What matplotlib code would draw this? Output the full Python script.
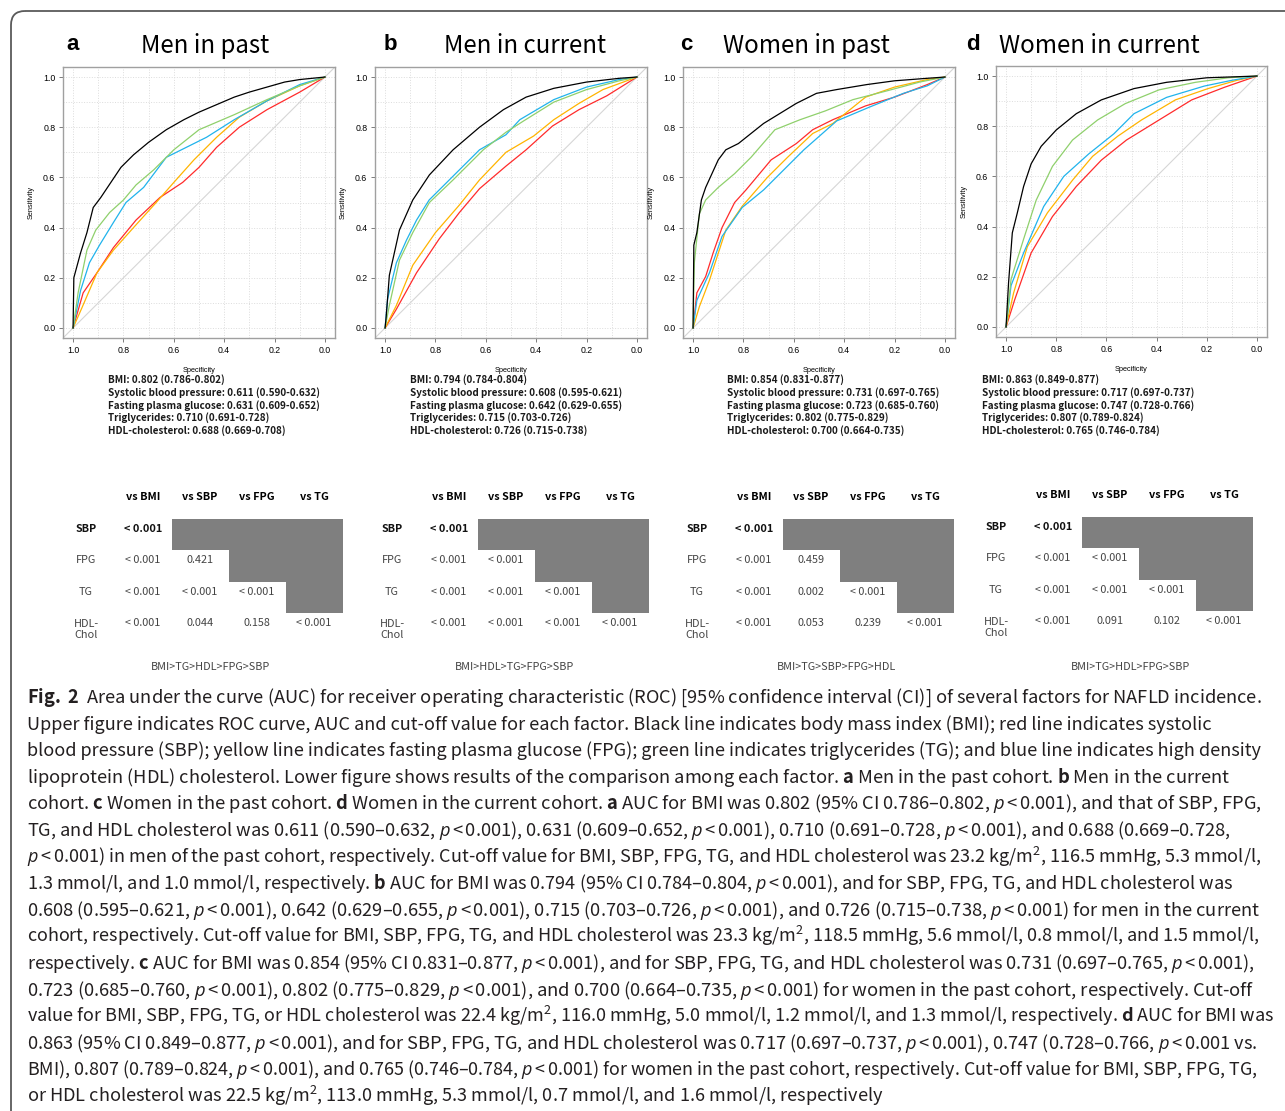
import matplotlib
matplotlib.use("Agg")
import matplotlib.pyplot as plt
from matplotlib import font_manager
from matplotlib.patches import Rectangle, FancyBboxPatch
from matplotlib.ticker import FormatStrFormatter
import numpy as np

W, H = 1285, 1111

installed = {f.name for f in font_manager.fontManager.ttflist}


def pick(*names):
    for n in names:
        if n in installed:
            return n
    return 'DejaVu Sans'


JP_FONT = pick('Noto Sans CJK JP', 'Noto Sans')
CAP_FONT = JP_FONT
IT_FONT = pick('Open Sans', 'Lato', 'Noto Sans')
R_FONT = pick('Liberation Sans', 'DejaVu Sans')

plt.rcParams['mathtext.fontset'] = 'custom'
plt.rcParams['mathtext.rm'] = CAP_FONT
plt.rcParams['mathtext.it'] = IT_FONT + ':italic'
plt.rcParams['mathtext.bf'] = CAP_FONT + ':bold'

# ---------------- data ----------------
letters = ["a", "b", "c", "d"]
titles = ["Men in past", "Men in current", "Women in past", "Women in current"]
line_colors = ["#000000", "#ff2b2b", "#ffb400", "#8fd06c", "#20b3ec"]  # BMI, SBP, FPG, TG, HDL

# ROC curves: (specificity, sensitivity)
roc_a_bmi = ([1.0, 0.997, 0.97, 0.945, 0.92, 0.89, 0.85, 0.81, 0.76, 0.70, 0.63, 0.56, 0.50, 0.43, 0.36, 0.30, 0.23, 0.16, 0.10, 0.0],
             [0.0, 0.20, 0.30, 0.38, 0.48, 0.52, 0.58, 0.64, 0.69, 0.74, 0.79, 0.83, 0.86, 0.89, 0.92, 0.94, 0.96, 0.98, 0.99, 1.0])
roc_a_sbp = ([1.0, 0.96, 0.905, 0.84, 0.75, 0.655, 0.565, 0.50, 0.43, 0.34, 0.23, 0.165, 0.10, 0.0],
             [0.0, 0.14, 0.22, 0.32, 0.43, 0.52, 0.58, 0.64, 0.72, 0.80, 0.87, 0.905, 0.94, 1.0])
roc_a_fpg = ([1.0, 0.965, 0.905, 0.84, 0.76, 0.67, 0.60, 0.52, 0.43, 0.34, 0.23, 0.10, 0.0],
             [0.0, 0.08, 0.22, 0.31, 0.40, 0.50, 0.58, 0.67, 0.76, 0.84, 0.905, 0.965, 1.0])
roc_a_tg = ([1.0, 0.98, 0.945, 0.91, 0.855, 0.80, 0.75, 0.68, 0.60, 0.50, 0.36, 0.23, 0.10, 0.0],
            [0.0, 0.14, 0.31, 0.39, 0.46, 0.51, 0.57, 0.63, 0.71, 0.79, 0.85, 0.91, 0.965, 1.0])
roc_a_hdl = ([1.0, 0.97, 0.935, 0.895, 0.84, 0.79, 0.72, 0.63, 0.55, 0.47, 0.36, 0.23, 0.10, 0.0],
             [0.0, 0.15, 0.26, 0.33, 0.42, 0.50, 0.56, 0.68, 0.72, 0.76, 0.83, 0.905, 0.97, 1.0])

roc_b_bmi = ([1.0, 0.996, 0.983, 0.943, 0.89, 0.824, 0.73, 0.625, 0.53, 0.44, 0.33, 0.20, 0.07, 0.0],
             [0.0, 0.04, 0.21, 0.39, 0.51, 0.61, 0.71, 0.80, 0.87, 0.92, 0.955, 0.98, 0.995, 1.0])
roc_b_sbp = ([1.0, 0.955, 0.875, 0.785, 0.705, 0.625, 0.52, 0.44, 0.335, 0.23, 0.12, 0.0],
             [0.0, 0.075, 0.22, 0.355, 0.46, 0.555, 0.645, 0.71, 0.805, 0.87, 0.925, 1.0])
roc_b_fpg = ([1.0, 0.955, 0.89, 0.80, 0.705, 0.625, 0.52, 0.41, 0.33, 0.23, 0.135, 0.0],
             [0.0, 0.09, 0.25, 0.38, 0.49, 0.59, 0.70, 0.765, 0.83, 0.895, 0.95, 1.0])
roc_b_tg = ([1.0, 0.983, 0.943, 0.89, 0.824, 0.73, 0.61, 0.52, 0.45, 0.33, 0.20, 0.07, 0.0],
            [0.0, 0.09, 0.27, 0.38, 0.50, 0.59, 0.71, 0.78, 0.825, 0.90, 0.95, 0.985, 1.0])
roc_b_hdl = ([1.0, 0.99, 0.955, 0.915, 0.875, 0.825, 0.73, 0.625, 0.52, 0.465, 0.33, 0.20, 0.07, 0.0],
             [0.0, 0.115, 0.26, 0.35, 0.43, 0.51, 0.605, 0.71, 0.77, 0.83, 0.91, 0.96, 0.99, 1.0])

roc_c_bmi = ([1.0, 0.997, 0.985, 0.967, 0.95, 0.925, 0.90, 0.87, 0.82, 0.77, 0.72, 0.655, 0.59, 0.51, 0.43, 0.31, 0.20, 0.07, 0.0],
             [0.0, 0.33, 0.38, 0.51, 0.56, 0.615, 0.67, 0.71, 0.735, 0.775, 0.815, 0.855, 0.895, 0.935, 0.95, 0.97, 0.985, 0.995, 1.0])
roc_c_sbp = ([1.0, 0.985, 0.95, 0.92, 0.885, 0.835, 0.79, 0.69, 0.59, 0.525, 0.445, 0.315, 0.20, 0.07, 0.0],
             [0.0, 0.14, 0.205, 0.30, 0.40, 0.50, 0.55, 0.67, 0.735, 0.79, 0.83, 0.885, 0.92, 0.97, 1.0])
roc_c_fpg = ([1.0, 0.975, 0.935, 0.87, 0.805, 0.705, 0.625, 0.525, 0.445, 0.315, 0.20, 0.07, 0.0],
             [0.0, 0.085, 0.19, 0.39, 0.485, 0.60, 0.68, 0.775, 0.815, 0.92, 0.96, 0.99, 1.0])
roc_c_tg = ([1.0, 0.995, 0.975, 0.95, 0.90, 0.835, 0.77, 0.675, 0.575, 0.475, 0.365, 0.23, 0.10, 0.0],
            [0.0, 0.26, 0.455, 0.51, 0.56, 0.615, 0.68, 0.79, 0.83, 0.865, 0.91, 0.945, 0.98, 1.0])
roc_c_hdl = ([1.0, 0.985, 0.935, 0.885, 0.805, 0.72, 0.64, 0.56, 0.43, 0.30, 0.165, 0.07, 0.0],
             [0.0, 0.11, 0.22, 0.365, 0.48, 0.55, 0.63, 0.71, 0.825, 0.88, 0.935, 0.965, 1.0])

roc_d_bmi = ([1.0, 0.99, 0.975, 0.955, 0.93, 0.90, 0.86, 0.80, 0.72, 0.62, 0.49, 0.36, 0.20, 0.0],
             [0.0, 0.175, 0.375, 0.455, 0.56, 0.65, 0.72, 0.785, 0.85, 0.905, 0.95, 0.975, 0.993, 1.0])
roc_d_sbp = ([1.0, 0.965, 0.90, 0.815, 0.72, 0.62, 0.52, 0.39, 0.26, 0.13, 0.0],
             [0.0, 0.11, 0.295, 0.44, 0.56, 0.665, 0.745, 0.825, 0.905, 0.955, 1.0])
roc_d_fpg = ([1.0, 0.97, 0.915, 0.835, 0.735, 0.655, 0.555, 0.46, 0.325, 0.195, 0.08, 0.0],
             [0.0, 0.135, 0.32, 0.455, 0.585, 0.68, 0.76, 0.825, 0.905, 0.95, 0.983, 1.0])
roc_d_tg = ([1.0, 0.98, 0.93, 0.88, 0.815, 0.735, 0.635, 0.525, 0.39, 0.245, 0.115, 0.0],
            [0.0, 0.19, 0.35, 0.505, 0.64, 0.745, 0.825, 0.89, 0.945, 0.975, 0.993, 1.0])
roc_d_hdl = ([1.0, 0.98, 0.93, 0.85, 0.77, 0.67, 0.57, 0.49, 0.36, 0.21, 0.10, 0.0],
             [0.0, 0.165, 0.295, 0.48, 0.60, 0.69, 0.77, 0.85, 0.915, 0.96, 0.983, 1.0])

auc_names = ["BMI", "Systolic blood pressure", "Fasting plasma glucose", "Triglycerides", "HDL-cholesterol"]
auc_a = ["0.802 (0.786-0.802)", "0.611 (0.590-0.632)", "0.631 (0.609-0.652)", "0.710 (0.691-0.728)", "0.688 (0.669-0.708)"]
auc_b = ["0.794 (0.784-0.804)", "0.608 (0.595-0.621)", "0.642 (0.629-0.655)", "0.715 (0.703-0.726)", "0.726 (0.715-0.738)"]
auc_c = ["0.854 (0.831-0.877)", "0.731 (0.697-0.765)", "0.723 (0.685-0.760)", "0.802 (0.775-0.829)", "0.700 (0.664-0.735)"]
auc_d = ["0.863 (0.849-0.877)", "0.717 (0.697-0.737)", "0.747 (0.728-0.766)", "0.807 (0.789-0.824)", "0.765 (0.746-0.784)"]

col_heads = ["vs BMI", "vs SBP", "vs FPG", "vs TG"]
row_names = ["SBP", "FPG", "TG", "HDL-\nChol"]
pvals_a = [["< 0.001"], ["< 0.001", "0.421"], ["< 0.001", "< 0.001", "< 0.001"], ["< 0.001", "0.044", "0.158", "< 0.001"]]
pvals_b = [["< 0.001"], ["< 0.001", "< 0.001"], ["< 0.001", "< 0.001", "< 0.001"], ["< 0.001", "< 0.001", "< 0.001", "< 0.001"]]
pvals_c = [["< 0.001"], ["< 0.001", "0.459"], ["< 0.001", "0.002", "< 0.001"], ["< 0.001", "0.053", "0.239", "< 0.001"]]
pvals_d = [["< 0.001"], ["< 0.001", "< 0.001"], ["< 0.001", "< 0.001", "< 0.001"], ["< 0.001", "0.091", "0.102", "< 0.001"]]
ranks = ["BMI>TG>HDL>FPG>SBP", "BMI>HDL>TG>FPG>SBP", "BMI>TG>SBP>FPG>HDL", "BMI>TG>HDL>FPG>SBP"]

caption_lines = [
    r"$\mathbf{Fig.}$ $\mathbf{2}$  Area under the curve (AUC) for receiver operating characteristic (ROC) [95% confidence interval (CI)] of several factors for NAFLD incidence.",
    "Upper figure indicates ROC curve, AUC and cut-off value for each factor. Black line indicates body mass index (BMI); red line indicates systolic",
    "blood pressure (SBP); yellow line indicates fasting plasma glucose (FPG); green line indicates triglycerides (TG); and blue line indicates high density",
    r"lipoprotein (HDL) cholesterol. Lower figure shows results of the comparison among each factor. $\mathbf{a}$ Men in the past cohort. $\mathbf{b}$ Men in the current",
    r"cohort. $\mathbf{c}$ Women in the past cohort. $\mathbf{d}$ Women in the current cohort. $\mathbf{a}$ AUC for BMI was 0.802 (95% CI 0.786–0.802, p<0.001), and that of SBP, FPG,",
    "TG, and HDL cholesterol was 0.611 (0.590–0.632, p<0.001), 0.631 (0.609–0.652, p<0.001), 0.710 (0.691–0.728, p<0.001), and 0.688 (0.669–0.728,",
    "p<0.001) in men of the past cohort, respectively. Cut-off value for BMI, SBP, FPG, TG, and HDL cholesterol was 23.2 kg/m², 116.5 mmHg, 5.3 mmol/l,",
    r"1.3 mmol/l, and 1.0 mmol/l, respectively. $\mathbf{b}$ AUC for BMI was 0.794 (95% CI 0.784–0.804, p<0.001), and for SBP, FPG, TG, and HDL cholesterol was",
    "0.608 (0.595–0.621, p<0.001), 0.642 (0.629–0.655, p<0.001), 0.715 (0.703–0.726, p<0.001), and 0.726 (0.715–0.738, p<0.001) for men in the current",
    "cohort, respectively. Cut-off value for BMI, SBP, FPG, TG, and HDL cholesterol was 23.3 kg/m², 118.5 mmHg, 5.6 mmol/l, 0.8 mmol/l, and 1.5 mmol/l,",
    r"respectively. $\mathbf{c}$ AUC for BMI was 0.854 (95% CI 0.831–0.877, p<0.001), and for SBP, FPG, TG, and HDL cholesterol was 0.731 (0.697–0.765, p<0.001),",
    "0.723 (0.685–0.760, p<0.001), 0.802 (0.775–0.829, p<0.001), and 0.700 (0.664–0.735, p<0.001) for women in the past cohort, respectively. Cut-off",
    r"value for BMI, SBP, FPG, TG, or HDL cholesterol was 22.4 kg/m², 116.0 mmHg, 5.0 mmol/l, 1.2 mmol/l, and 1.3 mmol/l, respectively. $\mathbf{d}$ AUC for BMI was",
    "0.863 (95% CI 0.849–0.877, p<0.001), and for SBP, FPG, TG, and HDL cholesterol was 0.717 (0.697–0.737, p<0.001), 0.747 (0.728–0.766, p<0.001 vs.",
    "BMI), 0.807 (0.789–0.824, p<0.001), and 0.765 (0.746–0.784, p<0.001) for women in the past cohort, respectively. Cut-off value for BMI, SBP, FPG, TG,",
    "or HDL cholesterol was 22.5 kg/m², 113.0 mmHg, 5.3 mmol/l, 0.7 mmol/l, and 1.6 mmol/l, respectively",
]

# ---------------- layout (pixels) ----------------
roc_sets = [
    [roc_a_bmi, roc_a_sbp, roc_a_fpg, roc_a_tg, roc_a_hdl],
    [roc_b_bmi, roc_b_sbp, roc_b_fpg, roc_b_tg, roc_b_hdl],
    [roc_c_bmi, roc_c_sbp, roc_c_fpg, roc_c_tg, roc_c_hdl],
    [roc_d_bmi, roc_d_sbp, roc_d_fpg, roc_d_tg, roc_d_hdl],
]
auc_sets = [auc_a, auc_b, auc_c, auc_d]
pval_sets = [pvals_a, pvals_b, pvals_c, pvals_d]

frames = [(63, 67, 335, 338), (375, 67, 647, 338), (683, 67, 955, 338), (996, 66, 1267, 337)]
letter_x = [73, 390, 686, 973]
title_x = [205, 525, 806, 1099]
auc_x = [108, 410, 727, 982]
table_x0 = [143, 449, 754, 1053]
table_y0 = [529, 529, 529, 527]
rank_x = [210, 514, 837, 1130]
col_w, row_h = 57, 31.3
cap_left = 27
cap_right = [1262, 1212, 1262, 1231, 1262, 1231, 1262, 1234, 1261, 1260, 1256, 1255, 1275, 1258, 1258, 884]


def frac(x0, y0, x1, y1):
    return [x0 / W, 1 - y1 / H, (x1 - x0) / W, (y1 - y0) / H]


fig = plt.figure(figsize=(W / 100, H / 100), dpi=100)
canvas = fig.add_axes([0, 0, 1, 1])
canvas.set_xlim(0, W)
canvas.set_ylim(H, 0)
canvas.axis('off')
canvas.add_patch(FancyBboxPatch((11, 11), 1400, 1300, boxstyle="round,pad=0,rounding_size=14",
                                fill=False, ec='#5a5a5a', lw=1.3))

renderer = fig.canvas.get_renderer()


def fit_size(texts, ref, target_px):
    w = ref.get_window_extent(renderer).width
    size = ref.get_fontsize() * target_px / w
    for t in texts:
        t.set_fontsize(size)


# ROC panels
draw_order = [1, 2, 4, 3, 0]
title_texts = []
for k in range(4):
    ax = fig.add_axes(frac(*frames[k]))
    ax.set_xlim(1.04, -0.04)
    ax.set_ylim(-0.04, 1.04)
    ax.set_xticks(np.arange(0, 1.01, 0.2))
    ax.set_yticks(np.arange(0, 1.01, 0.2))
    ax.set_xticks(np.arange(0, 1.01, 0.1), minor=True)
    ax.set_yticks(np.arange(0, 1.01, 0.1), minor=True)
    ax.xaxis.set_major_formatter(FormatStrFormatter('%.1f'))
    ax.yaxis.set_major_formatter(FormatStrFormatter('%.1f'))
    ax.grid(which='both', ls=':', color='#dcdcdc', lw=0.7)
    ax.tick_params(which='minor', length=0)
    ax.tick_params(which='major', length=3, width=0.6, color='#666666', labelsize=6.3, pad=2.5)
    for lab in ax.get_xticklabels() + ax.get_yticklabels():
        lab.set_family(R_FONT)
    for s in ax.spines.values():
        s.set_color('#a0a0a0')
        s.set_linewidth(1.0)
    ax.axline((1, 0), (0, 1), color='#d6d6d6', lw=0.8)
    for i in draw_order:
        spec, sens = roc_sets[k][i]
        ax.plot(spec, sens, color=line_colors[i], lw=0.9)
    ax.set_xlabel('Specificity', fontsize=5.3, family=R_FONT)
    ax.set_ylabel('Sensitivity', fontsize=5.3, family=R_FONT)
    ax.xaxis.set_label_coords(0.5, -0.107)
    ax.yaxis.set_label_coords(-0.103, 0.5)

    canvas.text(letter_x[k], 44, letters[k], fontsize=16, fontweight='bold', family=R_FONT,
                ha='center', va='center')
    title_texts.append(canvas.text(title_x[k], 46, titles[k], fontsize=16, family=JP_FONT,
                                   ha='center', va='center'))

fit_size(title_texts, title_texts[0], 128)

# AUC text blocks
auc_texts = []
for k in range(4):
    for i, (name, val) in enumerate(zip(auc_names, auc_sets[k])):
        auc_texts.append(canvas.text(auc_x[k], 380 + i * 12.6, f"{name}: {val}", fontsize=7,
                                     fontweight='bold', family=JP_FONT, color='#1a1a1a',
                                     ha='left', va='center'))
fit_size(auc_texts, auc_texts[1], 213)

# comparison tables
tab_texts = []
for k in range(4):
    x0, y0 = table_x0[k], table_y0[k]
    for j, h in enumerate(col_heads):
        tab_texts.append(canvas.text(x0 + j * col_w, y0 - 32, h, fontsize=7, fontweight='bold',
                                     family=JP_FONT, ha='center', va='center'))
    for i, name in enumerate(row_names):
        y = y0 + i * row_h
        bold = (i == 0)
        if '\n' in name:
            tab_texts.append(canvas.text(x0 - col_w - 12, y - 4, name, fontsize=7, family=JP_FONT,
                                         color='#444444', ha='left', va='top', linespacing=1.1))
        else:
            tab_texts.append(canvas.text(x0 - col_w, y, name, fontsize=7,
                                         fontweight='bold' if bold else 'normal', family=JP_FONT,
                                         color='#111111' if bold else '#444444', ha='center', va='center'))
        for j, v in enumerate(pval_sets[k][i]):
            tab_texts.append(canvas.text(x0 + j * col_w, y, v, fontsize=7,
                                         fontweight='bold' if bold else 'normal', family=JP_FONT,
                                         color='#111111' if bold else '#444444', ha='center', va='center'))
        if i < 3:
            gx = x0 + (i + 0.5) * col_w
            canvas.add_patch(Rectangle((gx, y0 - 10 + i * row_h), x0 + 3.5 * col_w - gx, row_h,
                                       color='#7f7f7f', lw=0))
    tab_texts.append(canvas.text(rank_x[k], 667, ranks[k], fontsize=7, family=JP_FONT,
                                 color='#444444', ha='center', va='center'))
# reference width: "< 0.001" in table a, FPG row
fit_size(tab_texts, tab_texts[7], 36)

# caption, one text per printed line, each fitted to the line length of the original
PV = r"$p\,$<$\,$0.001"
for i, line in enumerate(caption_lines):
    s = line.replace("p<0.001", PV).replace("kg/m²", r"kg/m$^{\mathrm{2}}$")
    t = canvas.text(cap_left, 703 + i * 26.6, s, fontsize=14, family=CAP_FONT,
                    color='#231f20', ha='left', va='baseline')
    fit_size([t], t, cap_right[i] - cap_left)

fig.savefig('out.png', dpi=100)
